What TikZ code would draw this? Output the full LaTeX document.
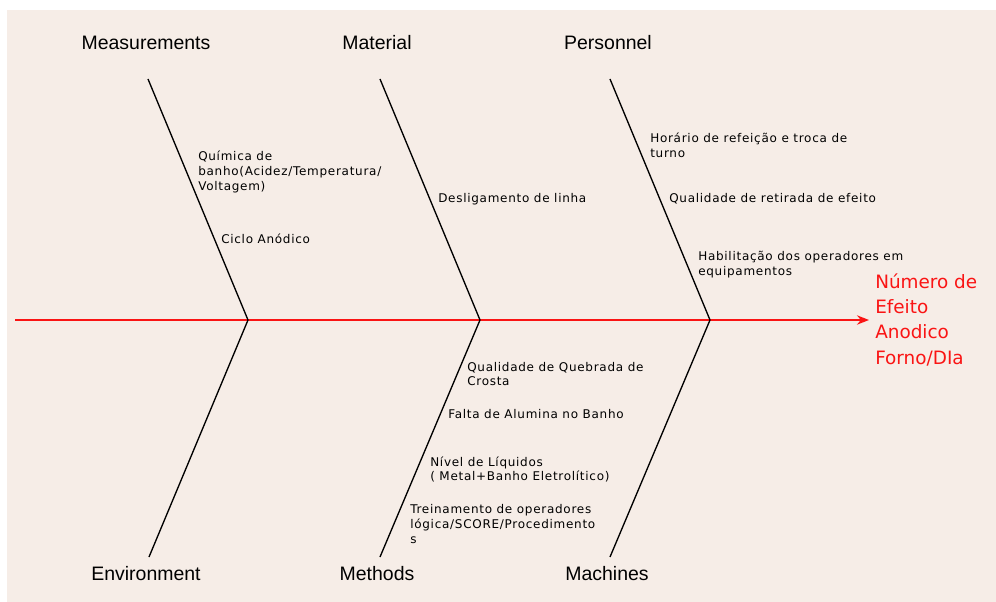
\documentclass[tikz,border=0pt]{standalone}
\usepackage{fontspec}
\setmainfont{DejaVu Sans}
\newfontfamily\catfont{Liberation Sans}
\newfontfamily\causefont[LetterSpace=6]{DejaVu Sans}
\usetikzlibrary{arrows.meta}
\definecolor{paper}{RGB}{246,237,231}
\definecolor{effectred}{RGB}{250,20,20}
\tikzset{
  cause/.style={anchor=west,align=left,inner sep=0pt,font=\causefont\fontsize{9}{11.2}\selectfont},
  category/.style={inner sep=0pt,font=\catfont\fontsize{14.6}{16}\selectfont},
  bone/.style={black,line width=1pt},
  spine/.style={effectred,line width=1.2pt,-{Stealth[length=9pt,width=7pt]}}
}
\begin{document}
\begin{tikzpicture}[x=0.75pt,y=-0.75pt]
  \useasboundingbox (0,0) rectangle (996,602);
  \fill[paper] (7,10) rectangle (996,602);

  % spine and effect
  \coordinate (tail) at (15,320);
  \coordinate (head) at (869,320);
  \node[anchor=west,align=left,inner sep=0pt,text=effectred,
        font=\fontsize{13.8}{19}\selectfont] (effect) at (875,319.5)
        {Número de\\Efeito\\Anodico\\Forno/DIa};
  \draw[spine] (tail) -- (head);

  % junctions on the spine
  \coordinate (j1) at (248,320);
  \coordinate (j2) at (480,320);
  \coordinate (j3) at (710,320);

  % bone ends
  \coordinate (t1) at (148,79);
  \coordinate (t2) at (380,79);
  \coordinate (t3) at (610,79);
  \coordinate (b1) at (149,557);
  \coordinate (b2) at (380,557);
  \coordinate (b3) at (610,557);

  \draw[bone] (t1) -- (j1) -- (b1);
  \draw[bone] (t2) -- (j2) -- (b2);
  \draw[bone] (t3) -- (j3) -- (b3);

  % categories
  \node[category] (meas) at (146,43) {Measurements};
  \node[category] (mat)  at (377,43) {Material};
  \node[category] (pers) at (608,43) {Personnel};
  \node[category] (env)  at (146,574) {Environment};
  \node[category] (meth) at (377,574) {Methods};
  \node[category] (mach) at (607,574) {Machines};

  % causes
  \node[cause] (quim)  at (198,172) {Química de\\banho(Acidez/Temperatura/\\Voltagem)};
  \node[cause] (ciclo) at (221,239) {Ciclo Anódico};
  \node[cause] (desl)  at (438,199) {Desligamento de linha};
  \node[cause] (hora)  at (650,145.5) {Horário de refeição e troca de\\turno};
  \node[cause] (retir) at (669,199) {Qualidade de retirada de efeito};
  \node[cause] (habil) at (698,264.5) {Habilitação dos operadores em\\equipamentos};
  \node[cause] (queb)  at (467,374) {Qualidade de Quebrada de\\Crosta};
  \node[cause] (falta) at (448,414) {Falta de Alumina no Banho};
  \node[cause] (nivel) at (430,469.5) {Nível de Líquidos\\( Metal+Banho Eletrolítico)};
  \node[cause] (trein) at (410,524) {Treinamento de operadores\\lógica/SCORE/Procedimento\\s};
\end{tikzpicture}
\end{document}
